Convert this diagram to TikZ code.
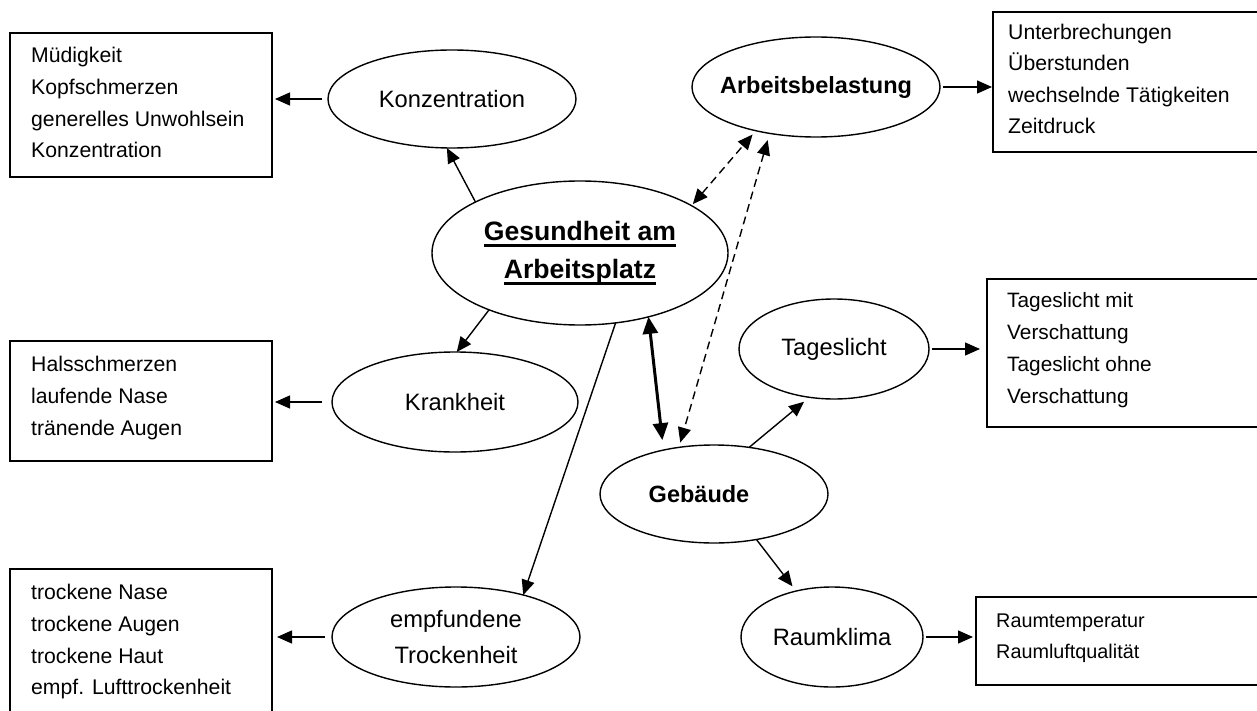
\documentclass[tikz,border=0pt]{standalone}
\usepackage{fontspec}
\setmainfont{Liberation Sans}
\usetikzlibrary{shapes.geometric,arrows.meta}
\newsavebox\ulbox
\newcommand\ulbar[1]{\sbox\ulbox{#1}\rlap{\rule[-6.3pt]{\wd\ulbox}{2.4pt}}\usebox\ulbox}
\begin{document}
\begin{tikzpicture}[x=1pt,y=-1pt,
  >={Triangle[length=15pt,width=13pt]},
  oval/.style={ellipse,draw,line width=1.4pt,inner sep=0pt,outer sep=0pt,align=center,
    font=\fontsize{23.7pt}{36pt}\selectfont},
  boldoval/.style={oval,font=\bfseries\fontsize{23.5pt}{28pt}\selectfont},
  titleoval/.style={oval,font=\bfseries\fontsize{26.6pt}{38pt}\selectfont},
  listbox/.style={draw,line width=2pt,inner sep=0pt,outer sep=0pt,anchor=north west},
  item/.style={anchor=base west,inner sep=0pt,font=\fontsize{21.2pt}{25pt}\selectfont},
  itemT/.style={item,font=\fontsize{20.8pt}{25pt}\selectfont},
  itemR/.style={item,font=\fontsize{19.8pt}{24pt}\selectfont},
  arr/.style={line width=1.4pt,->},
  dasharr/.style={line width=1.4pt,dash pattern=on 8pt off 5pt,<->},
  thickarr/.style={line width=3pt,arrows={Triangle[length=17pt,width=15pt]-Triangle[length=17pt,width=15pt]}}
]
\useasboundingbox (0,0) rectangle (1257,711);
\fill[white] (0,0) rectangle (1257,711);
\clip (0,0) rectangle (1257,711);

% left boxes
\node[listbox,minimum width=262,minimum height=144] (b1) at (10,33) {};
\node[item] (b1a) at (31,63) {Müdigkeit};
\node[item] (b1b) at (31,95) {Kopfschmerzen};
\node[item] (b1c) at (31,127) {generelles Unwohlsein};
\node[item] (b1d) at (31,158) {Konzentration};

\node[listbox,minimum width=262,minimum height=120] (b2) at (10,341) {};
\node[item] (b2a) at (31,371) {Halsschmerzen};
\node[item] (b2b) at (31,403) {laufende Nase};
\node[item] (b2c) at (31,435) {tränende Augen};

\node[listbox,minimum width=262,minimum height=170] (b3) at (10,569) {};
\node[item] (b3a) at (31,599) {trockene Nase};
\node[item] (b3b) at (31,631) {trockene Augen};
\node[item] (b3c) at (31,663) {trockene Haut};
\node[item] (b3d) at (31,694) {empf. Lufttrockenheit};

% right boxes
\node[listbox,minimum width=280,minimum height=140] (bA) at (993,12) {};
\node[item] (bAa) at (1008,40) {Unterbrechungen};
\node[item] (bAb) at (1008,71) {Überstunden};
\node[item] (bAc) at (1008,103) {wechselnde Tätigkeiten};
\node[item] (bAd) at (1008,134) {Zeitdruck};

\node[listbox,minimum width=290,minimum height=148] (bT) at (987,279) {};
\node[itemT] (bTa) at (1007,307) {Tageslicht mit};
\node[itemT] (bTb) at (1007,339) {Verschattung};
\node[itemT] (bTc) at (1007,371) {Tageslicht ohne};
\node[itemT] (bTd) at (1007,403) {Verschattung};

\node[listbox,minimum width=300,minimum height=88] (bR) at (976,597) {};
\node[itemR] (bRa) at (996,627) {Raumtemperatur};
\node[itemR] (bRb) at (996,658) {Raumluftqualität};

% ellipses
\node[oval,minimum width=248,minimum height=98] (kon) at (452,99) {Konzentration};
\node[boldoval,minimum width=248,minimum height=100] (arb) at (816,87) {\makebox[0pt]{Arbeitsbelastung}};
\node[titleoval,minimum width=296,minimum height=144] (ges) at (580,253) {\ulbar{Gesundheit am}\\\ulbar{Arbeitsplatz}};
\node[oval,minimum width=246,minimum height=100] (kra) at (455,402) {Krankheit};
\node[oval,minimum width=248,minimum height=100] (emp) at (456,637) {empfundene\\Trockenheit};
\node[boldoval,minimum width=228,minimum height=98] (geb) at (714,494) {\makebox[0pt]{\hspace*{-30pt}Gebäude}};
\node[oval,minimum width=190,minimum height=100] (tag) at (834,349) {Tageslicht};
\node[oval,minimum width=182,minimum height=100] (rau) at (832,637) {Raumklima};

% horizontal arrows to boxes
\draw[arr,shorten <=6pt,shorten >=3pt] (kon.west) -- (kon.west -| b1.east);
\draw[arr,shorten <=10pt,shorten >=3pt] (kra.west) -- (kra.west -| b2.east);
\draw[arr,shorten <=7pt,shorten >=5pt] (emp.west) -- (emp.west -| b3.east);
\draw[arr,shorten <=3pt,shorten >=1pt] (arb.east) -- (arb.east -| bA.west);
\draw[arr,shorten <=3pt,shorten >=7pt] (tag.east) -- (tag.east -| bT.west);
\draw[arr,shorten <=3pt,shorten >=3pt] (rau.east) -- (rau.east -| bR.west);

% connectors
\draw[arr] (ges.154) -- (kon.264);
\draw[arr] (ges.212) -- (kra.88);
\draw[arr] (ges.297) -- (emp.32);
\draw[thickarr,shorten >=10pt] (ges.317) -- (geb.139);
\draw[dasharr,shorten <=7pt,shorten >=5pt] (arb.225) -- (geb.127);
\draw[dasharr,shorten <=2pt,shorten >=5pt] (ges.23) -- (arb.216);
\draw[arr,shorten >=7pt] (geb.53) -- (tag.243);
\draw[arr,shorten >=6pt] (geb.313) -- (rau.128);
\end{tikzpicture}
\end{document}
